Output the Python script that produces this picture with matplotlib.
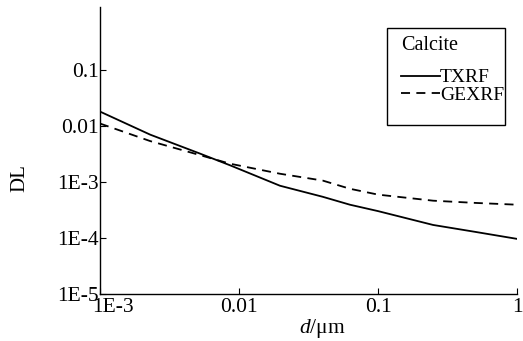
import matplotlib
matplotlib.use("Agg")
import matplotlib.pyplot as plt
from matplotlib.patches import Rectangle
import matplotlib.transforms as mtransforms

# Data
d_txrf = [0.001, 0.0023, 0.0052, 0.0086, 0.0197, 0.04, 0.0628, 0.1, 0.249, 0.5, 1.0]
dl_txrf = [0.0178, 0.0069, 0.0032, 0.00197, 8.5e-4, 5.4e-4, 3.9e-4, 3.0e-4,
           1.7e-4, 1.28e-4, 9.6e-5]
d_gexrf = [0.001, 0.0023, 0.0052, 0.0086, 0.0197, 0.04, 0.0628, 0.1, 0.249, 0.5, 1.0]
dl_gexrf = [0.0109, 0.0053, 0.0030, 0.0021, 1.39e-3, 1.05e-3, 7.5e-4, 5.9e-4,
            4.6e-4, 4.2e-4, 3.9e-4]

xticks = [1e-3, 1e-2, 1e-1, 1]
xticklabels = ["1E-3", "0.01", "0.1", "1"]
yticks = [1e-5, 1e-4, 1e-3, 1e-2, 1e-1]
yticklabels = ["1E-5", "1E-4", "1E-3", "0.01", "0.1"]

plt.rcParams['font.family'] = ['Liberation Serif', 'DejaVu Serif']
plt.rcParams['mathtext.fontset'] = 'custom'
plt.rcParams['mathtext.it'] = 'Liberation Serif:italic'
plt.rcParams['mathtext.rm'] = 'Liberation Serif'

fig = plt.figure(figsize=(5.23, 3.41), dpi=100)
ax = fig.add_axes([100/523, 1-294/341, 417/523, 287/341])

l1, = ax.plot(d_txrf, dl_txrf, color='black', lw=1.3, ls='-', label='TXRF')
l2, = ax.plot(d_gexrf, dl_gexrf, color='black', lw=1.3, ls=(0, (5, 3.5)), label='GEXRF')

ax.set_xscale('log')
ax.set_yscale('log')
ax.set_xlim(1e-3, 1.0)
ax.set_ylim(1e-5, 1.3)
ax.set_xticks(xticks)
ax.set_xticklabels(xticklabels)
ax.set_yticks(yticks)
ax.set_yticklabels(yticklabels)
ax.minorticks_off()
ax.tick_params(direction='in', length=4, width=0.8, labelsize=15.5, pad=1)
ax.tick_params(axis='x', pad=3)
for s in ['top', 'right']:
    ax.spines[s].set_visible(False)
for s in ['left', 'bottom']:
    ax.spines[s].set_linewidth(1.0)

# first x tick label sits shifted to the right in the reference
first = ax.get_xticklabels()[0]
first.set_transform(first.get_transform() +
                    mtransforms.ScaledTranslation(13/100, 0, fig.dpi_scale_trans))

ax.set_xlabel(r'$d$/μm', fontsize=15.5, labelpad=0)
ax.xaxis.set_label_coords((322-100)/417, -(317-294)/287)
ax.set_ylabel('DL', fontsize=15)
ax.yaxis.set_label_coords(-(100-29)/417, (294-178)/287)

leg = ax.legend(handles=[l1, l2], title='Calcite', loc='upper left',
                bbox_to_anchor=(401/523, 1-36/341), bbox_transform=fig.transFigure,
                frameon=False, fontsize=14, title_fontsize=14.5,
                handlelength=2.0, handletextpad=0.0, labelspacing=0.0,
                borderpad=0.0, borderaxespad=0.0, alignment='left')
leg._legend_box.sep = 10

fig.patches.append(Rectangle((387/523, 1-125/341), (505-387)/523, (125-28)/341,
                             transform=fig.transFigure, fill=False,
                             edgecolor='black', lw=1.0))

fig.savefig('out.png', dpi=100)
